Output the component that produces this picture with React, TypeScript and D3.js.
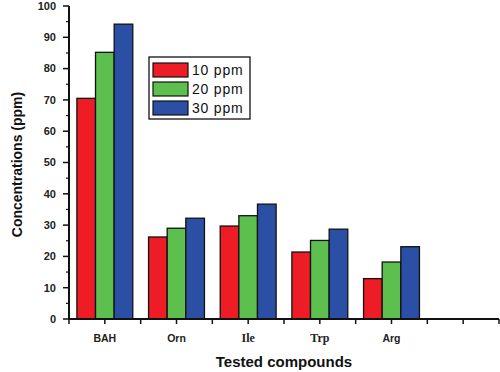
import React from 'react';
import * as d3 from 'd3';

// Chart data
const categories = ['BAH', 'Orn', 'Ile', 'Trp', 'Arg', ''];
const seriesNames = ['10 ppm', '20 ppm', '30 ppm'];
const seriesColors = ['#ee1c25', '#5cbf4e', '#2a4fa5'];
const values10 = [70.5, 26.2, 29.7, 21.4, 12.9];
const values20 = [85.2, 29.0, 33.0, 25.1, 18.2];
const values30 = [94.2, 32.2, 36.7, 28.7, 23.1];
const yTicks = [0, 10, 20, 30, 40, 50, 60, 70, 80, 90, 100];
const serifLabels = ['Ile', 'Trp'];

const W = 500;
const H = 372;
const margin = { top: 6, right: 1, bottom: 53, left: 69 };

export default function App() {
  const innerW = W - margin.left - margin.right;
  const innerH = H - margin.top - margin.bottom;

  const x = d3.scaleBand<string>()
    .domain(categories.map((c, i) => `${i}`))
    .range([0, innerW])
    .paddingInner(0.22)
    .paddingOuter(0.11);
  const xOuter = d3.scaleBand<string>()
    .domain(categories.map((c, i) => `${i}`))
    .range([0, innerW]);
  const xSub = d3.scaleBand<number>()
    .domain([0, 1, 2])
    .range([0, x.bandwidth()]);
  const y = d3.scaleLinear().domain([0, 100]).range([innerH, 0]);

  const series = [values10, values20, values30];
  const minorTicks = d3.range(5, 100, 10);
  const boundaries = d3.range(0, categories.length + 1).map(i => i * xOuter.step());

  const sans = 'Arial, "Liberation Sans", sans-serif';

  return (
    <div style={{ position: 'absolute', left: 0, top: 0 }}>
      <svg width={W} height={H} style={{ display: 'block', background: '#fff' }}>
        <g transform={`translate(${margin.left},${margin.top})`}>
          {/* bars */}
          {series.map((vals, s) =>
            vals.map((v, i) => (
              <rect
                key={`${s}-${i}`}
                x={(x(`${i}`) ?? 0) + (xSub(s) ?? 0)}
                y={y(v)}
                width={xSub.bandwidth()}
                height={innerH - y(v)}
                fill={seriesColors[s]}
                stroke="#111"
                strokeWidth={1.3}
              />
            ))
          )}

          {/* y axis */}
          <line x1={0} x2={0} y1={0} y2={innerH} stroke="#111" strokeWidth={2} />
          {yTicks.map(t => (
            <g key={t} transform={`translate(0,${y(t)})`}>
              <line x1={-6} x2={0} stroke="#111" strokeWidth={1.5} />
              <text
                x={-13}
                dy="0.35em"
                textAnchor="end"
                fontFamily={sans}
                fontWeight="bold"
                fontSize={11}
                fill="#222"
              >
                {t}
              </text>
            </g>
          ))}
          {minorTicks.map(t => (
            <line key={t} x1={-3} x2={0} y1={y(t)} y2={y(t)} stroke="#111" strokeWidth={1.2} />
          ))}

          {/* x axis */}
          <line x1={0} x2={innerW} y1={innerH} y2={innerH} stroke="#111" strokeWidth={2} />
          {boundaries.map((b, i) => (
            <line key={`b${i}`} x1={b} x2={b} y1={innerH} y2={innerH + 5} stroke="#111" strokeWidth={1.5} />
          ))}
          {categories.map((c, i) => {
            const cx = (xOuter(`${i}`) ?? 0) + xOuter.bandwidth() / 2;
            return (
              <g key={`c${i}`}>
                <line x1={cx} x2={cx} y1={innerH} y2={innerH + 5} stroke="#111" strokeWidth={1.5} />
                <text
                  x={cx}
                  y={innerH + 23}
                  textAnchor="middle"
                  fontFamily={serifLabels.includes(c) ? '"Liberation Serif", "Times New Roman", serif' : sans}
                  fontWeight="bold"
                  fontSize={serifLabels.includes(c) ? 12 : 10.5}
                  fill="#222"
                >
                  {c}
                </text>
              </g>
            );
          })}

          {/* axis titles */}
          <text
            x={innerW / 2}
            y={innerH + 48}
            textAnchor="middle"
            fontFamily={sans}
            fontWeight="bold"
            fontSize={15}
            fill="#111"
          >
            Tested compounds
          </text>
          <text
            transform={`translate(${-47},${innerH / 2 + 2}) rotate(-90)`}
            textAnchor="middle"
            fontFamily={sans}
            fontWeight="bold"
            fontSize={14}
            fill="#111"
          >
            Concentrations (ppm)
          </text>

          {/* legend */}
          <g transform={`translate(${149 - margin.left},${57 - margin.top})`}>
            <rect x={0} y={0} width={101} height={62} fill="#fff" stroke="#111" strokeWidth={1.3} />
            {seriesNames.map((n, i) => (
              <g key={n} transform={`translate(4,${6 + i * 19})`}>
                <rect x={0} y={0} width={35} height={14} fill={seriesColors[i]} stroke="#111" strokeWidth={1.2} />
                <text x={39} y={7} dy="0.36em" fontFamily={sans} fontSize={14} letterSpacing={0.8} fill="#111">
                  {n}
                </text>
              </g>
            ))}
          </g>
        </g>
      </svg>
    </div>
  );
}
